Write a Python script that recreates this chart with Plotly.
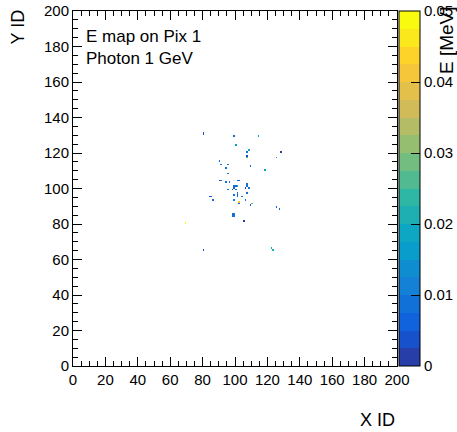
import plotly.graph_objects as go

# Deposited energy per pixel cell (X ID, Y ID, E in MeV)
hit_x = [80, 80, 99, 114, 100, 107, 108, 107, 107, 128, 125, 90, 91, 95, 94, 109,
         118, 95, 90, 91, 94, 96, 101, 102, 99, 101, 100, 98, 95, 100, 99, 99, 101,
         101, 101, 106, 107, 108, 107, 107, 84, 85, 86, 99, 104, 106, 102, 102, 109,
         110, 125, 127, 98, 99, 98, 99, 105, 69, 80, 122, 123]
hit_y = [130, 131, 129, 129, 124, 120, 121, 118, 117, 120, 117, 115, 113, 113, 111, 112,
         110, 108, 104, 104, 103, 103, 104, 104, 101, 101, 101, 99, 99, 99, 100, 96, 95,
         96, 97, 100, 102, 100, 101, 97, 95, 95, 93, 93, 95, 93, 92, 91, 90,
         91, 89, 88, 84, 84, 85, 85, 81, 80, 65, 66, 65]
hit_e = [0.005, 0.003, 0.009, 0.015, 0.017, 0.008, 0.018, 0.004, 0.027, 0.002, 0.016,
         0.008, 0.008, 0.009, 0.008, 0.008, 0.017, 0.008, 0.007, 0.007, 0.009, 0.008,
         0.007, 0.007, 0.008, 0.022, 0.007, 0.007, 0.008, 0.008, 0.006, 0.009, 0.008,
         0.007, 0.008, 0.002, 0.008, 0.009, 0.008, 0.009, 0.007, 0.007, 0.008, 0.012,
         0.009, 0.008, 0.042, 0.006, 0.007, 0.029, 0.009, 0.008, 0.008, 0.008, 0.008,
         0.008, 0.002, 0.049, 0.003, 0.019, 0.021]

n_bins = 200
e_min, e_max = 0.0, 0.05
cbar_ticks = [0, 0.01, 0.02, 0.03, 0.04, 0.05]
cbar_labels = ["0", "0.01", "0.02", "0.03", "0.04", "0.05"]

# kBird palette, sampled into 20 flat contour bands
stops = [0, 0.125, 0.25, 0.375, 0.5, 0.625, 0.75, 0.875, 1]
red = [0.2082, 0.0592, 0.0780, 0.0232, 0.1802, 0.5301, 0.8186, 0.9956, 0.9764]
green = [0.1664, 0.3599, 0.5041, 0.6419, 0.7178, 0.7492, 0.7328, 0.7862, 0.9832]
blue = [0.5293, 0.8684, 0.8385, 0.7914, 0.6425, 0.4662, 0.3499, 0.1968, 0.0539]


def bird(f):
    for i in range(len(stops) - 1):
        if stops[i] <= f <= stops[i + 1]:
            t = (f - stops[i]) / (stops[i + 1] - stops[i])
            r = red[i] + t * (red[i + 1] - red[i])
            g = green[i] + t * (green[i + 1] - green[i])
            b = blue[i] + t * (blue[i + 1] - blue[i])
            return f"rgb({round(r*255)},{round(g*255)},{round(b*255)})"
    return "rgb(0,0,0)"


n_cont = 20
colorscale = []
for i in range(n_cont):
    idx = int((i + 0.99) * 255 / n_cont)
    c = bird(min(idx, 254) / 254)
    colorscale.append([i / n_cont, c])
    colorscale.append([(i + 1) / n_cont, c])

z = [[None] * n_bins for _ in range(n_bins)]
for x, y, e in zip(hit_x, hit_y, hit_e):
    z[y][x] = e
centers = [i + 0.5 for i in range(n_bins)]

W, H = 457, 432
ml, mr, mt, mb = 73, 60, 11, 66
pw, ph = W - ml - mr, H - mt - mb


def px(xp):
    return (xp - ml) / pw


def py(yp):
    return (H - mb - yp) / ph


fig = go.Figure(go.Heatmap(
    x=centers, y=centers, z=z, zmin=e_min, zmax=e_max,
    colorscale=colorscale, zsmooth=False, hoverongaps=False,
    colorbar=dict(
        x=px(399), xanchor="left", xpad=0, y=0.5, yanchor="middle", ypad=0,
        len=1, lenmode="fraction", thickness=21, thicknessmode="pixels",
        outlinecolor="black", outlinewidth=1,
        tickvals=cbar_ticks, ticktext=cbar_labels, ticks="inside",
        ticklen=9, tickcolor="black",
        tickfont=dict(size=15, color="black"),
    ),
))

font = "Liberation Sans, Arial, Helvetica, sans-serif"
axis_common = dict(
    range=[0, 200], dtick=20, tick0=0, ticks="inside", ticklen=9,
    tickcolor="black", showline=True, linecolor="black", linewidth=1,
    mirror="allticks", showgrid=False, zeroline=False,
    tickfont=dict(size=15, color="black"),
    minor=dict(dtick=5, ticks="inside", ticklen=5, tickcolor="black",
               showgrid=False),
)

fig.update_layout(
    width=W, height=H,
    margin=dict(l=ml, r=mr, t=mt, b=mb, autoexpand=False),
    paper_bgcolor="white", plot_bgcolor="white",
    font=dict(family=font, color="black"),
    xaxis=dict(**axis_common),
    yaxis=dict(**axis_common),
    annotations=[
        dict(text="E map on Pix 1", x=px(84), y=py(36), xref="paper",
             yref="paper", xanchor="left", yanchor="middle",
             showarrow=False, font=dict(size=17)),
        dict(text="Photon 1 GeV", x=px(84), y=py(58), xref="paper",
             yref="paper", xanchor="left", yanchor="middle",
             showarrow=False, font=dict(size=17)),
        dict(text="X ID", x=1, y=py(420), xref="paper", yref="paper",
             xanchor="right", yanchor="middle", showarrow=False,
             font=dict(size=18)),
        dict(text="Y ID", x=px(17), y=py(8), xref="paper", yref="paper",
             xanchor="center", yanchor="top", textangle=-90,
             showarrow=False, font=dict(size=18)),
        dict(text="E [MeV]", x=px(447), y=py(76), xref="paper", yref="paper",
             xanchor="center", yanchor="bottom", textangle=-90,
             showarrow=False, font=dict(size=19)),
    ],
)

fig.write_html("out.html")
